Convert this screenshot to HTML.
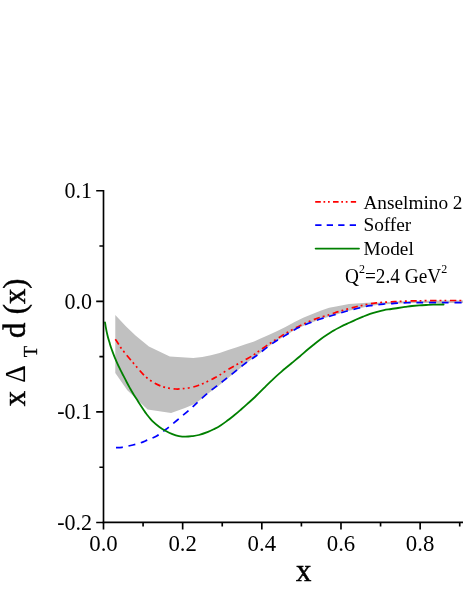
<!DOCTYPE html>
<html><head><meta charset="utf-8">
<style>
html,body{margin:0;padding:0;background:#fff;}
body{width:463px;height:599px;overflow:hidden;font-family:"Liberation Serif",serif;}
svg{display:block;will-change:transform;}
text{font-family:"Liberation Serif",serif;fill:#000;}
</style></head><body>
<svg width="463" height="599" viewBox="0 0 463 599">
<rect width="463" height="599" fill="#fff"/>
<!-- uncertainty band -->
<polygon fill="#c0c0c0" points="115.3,315.0 126.1,326.6 135.8,335.8 148.9,346.6 169.8,356.5 193.2,358.0 202.3,356.9 210.9,355.2 219.6,353.0 228.2,350.0 236.8,347.3 245.5,344.3 254.1,341.4 260.0,338.8 268.6,334.9 277.3,330.9 285.9,326.8 294.6,322.1 303.2,317.8 311.8,314.2 320.5,310.7 329.1,307.8 336.0,306.4 349.0,304.0 363.1,303.0 371.5,302.4 377.1,302.8 384.1,302.2 391.2,301.9 398.0,301.5 412.0,300.9 426.0,300.7 445.0,300.5 464.0,300.5 464.0,302.9 445.0,302.9 426.0,302.9 412.0,302.9 398.0,303.4 391.2,303.9 384.1,304.3 377.1,305.0 370.1,306.0 363.1,307.4 356.1,309.0 349.0,310.8 342.0,312.8 335.0,314.9 329.1,316.7 320.5,319.3 311.8,322.4 303.2,325.9 294.6,330.0 285.9,335.4 277.3,340.5 268.6,346.5 260.0,353.2 254.1,357.6 245.5,363.8 236.8,371.0 228.2,378.1 219.6,384.9 210.9,391.6 207.5,394.0 202.3,398.2 195.4,403.4 191.0,405.6 185.0,408.0 171.1,413.0 147.6,409.6 127.3,390.2 115.3,373.0"/>
<!-- Anselmino 2 -->
<path fill="none" stroke="#ff0000" stroke-width="1.7" stroke-dasharray="6.25,3.0,1.9,3.1,1.9,3.65" d="M115.3,339.3C115.8,340.0 117.0,341.8 118.0,343.3C119.0,344.8 120.0,346.6 121.2,348.2C122.4,349.8 123.5,351.1 125.0,353.0C126.5,354.9 128.7,357.5 130.5,359.7C132.3,361.9 134.0,363.8 135.9,366.0C137.8,368.2 140.0,370.9 142.0,373.0C144.0,375.1 145.8,377.0 148.0,378.7C150.2,380.4 152.6,382.0 154.9,383.3C157.2,384.6 159.5,385.6 161.8,386.4C164.1,387.2 166.4,387.8 168.7,388.2C171.0,388.6 173.4,388.9 175.7,389.0C178.0,389.1 179.9,389.0 182.6,388.7C185.3,388.4 189.2,387.9 191.9,387.3C194.6,386.7 196.5,386.1 198.8,385.3C201.1,384.5 203.4,383.4 205.7,382.3C208.0,381.2 210.3,380.1 212.6,378.9C214.9,377.7 217.0,376.7 219.6,375.1C222.2,373.5 225.3,371.2 228.2,369.5C231.1,367.8 233.9,366.2 236.8,364.6C239.7,363.0 242.6,361.4 245.5,359.7C248.4,358.0 251.7,356.2 254.1,354.6C256.5,353.0 257.6,352.0 260.0,350.3C262.4,348.6 265.7,346.1 268.6,344.2C271.5,342.3 274.4,340.5 277.3,338.7C280.2,336.9 283.0,334.9 285.9,333.2C288.8,331.5 291.7,330.0 294.6,328.5C297.5,327.0 300.3,325.6 303.2,324.2C306.1,322.8 308.9,321.5 311.8,320.4C314.7,319.2 317.6,318.2 320.5,317.3C323.4,316.4 326.7,315.5 329.1,314.7C331.5,313.9 332.9,313.4 335.0,312.7C337.1,312.0 339.7,311.3 342.0,310.6C344.3,309.9 346.6,309.2 349.0,308.6C351.4,308.0 353.8,307.4 356.1,306.8C358.5,306.2 360.8,305.7 363.1,305.2C365.4,304.7 367.8,304.2 370.1,303.8C372.4,303.4 374.8,303.1 377.1,302.8C379.4,302.5 381.8,302.4 384.1,302.2C386.5,302.0 388.9,302.0 391.2,301.9C393.5,301.8 394.5,301.7 398.0,301.5C401.5,301.3 407.3,301.0 412.0,300.9C416.7,300.8 420.5,300.8 426.0,300.7C431.5,300.6 438.7,300.5 445.0,300.5C451.3,300.5 460.8,300.5 464.0,300.5"/>
<!-- Soffer -->
<path fill="none" stroke="#0000ff" stroke-width="1.7" stroke-dasharray="6.95,5.75" d="M116.0,447.6C117.0,447.6 119.6,447.7 122.1,447.3C124.5,446.9 127.8,446.2 130.7,445.5C133.6,444.8 136.5,444.2 139.4,443.3C142.3,442.4 145.1,441.0 148.0,439.8C150.9,438.6 153.8,437.6 156.7,435.9C159.6,434.2 162.4,432.0 165.3,429.8C168.2,427.6 171.0,425.3 173.9,422.9C176.8,420.5 179.9,417.9 182.6,415.6C185.3,413.3 188.1,410.9 190.2,409.0C192.3,407.1 193.4,406.2 195.4,404.3C197.4,402.4 199.7,400.2 202.3,397.9C204.9,395.6 208.0,392.9 210.9,390.5C213.8,388.1 216.7,386.1 219.6,383.8C222.5,381.6 225.3,379.3 228.2,377.0C231.1,374.7 233.9,372.4 236.8,370.1C239.7,367.8 242.6,365.3 245.5,363.2C248.4,361.1 251.7,359.0 254.1,357.3C256.5,355.6 257.6,354.8 260.0,352.9C262.4,351.0 265.7,348.3 268.6,346.2C271.5,344.1 274.4,342.0 277.3,340.2C280.2,338.4 283.0,336.9 285.9,335.1C288.8,333.4 291.7,331.3 294.6,329.7C297.5,328.1 300.3,326.9 303.2,325.6C306.1,324.3 308.9,323.2 311.8,322.1C314.7,321.0 317.6,319.9 320.5,319.0C323.4,318.1 326.7,317.1 329.1,316.4C331.5,315.7 332.9,315.2 335.0,314.6C337.1,314.0 339.7,313.2 342.0,312.5C344.3,311.8 346.6,311.1 349.0,310.5C351.4,309.9 353.8,309.3 356.1,308.7C358.5,308.1 360.8,307.6 363.1,307.1C365.4,306.6 367.8,306.1 370.1,305.7C372.4,305.3 374.8,305.0 377.1,304.7C379.4,304.4 381.8,304.2 384.1,304.0C386.5,303.8 388.9,303.8 391.2,303.6C393.5,303.5 394.5,303.3 398.0,303.1C401.5,302.9 407.3,302.7 412.0,302.6C416.7,302.5 420.5,302.6 426.0,302.6C431.5,302.6 438.7,302.6 445.0,302.6C451.3,302.6 460.8,302.6 464.0,302.6"/>
<!-- Model -->
<path fill="none" stroke="#008000" stroke-width="1.8" stroke-linecap="round" d="M105.0,322.3C105.2,323.4 105.6,326.5 106.1,328.8C106.5,331.1 107.1,333.8 107.7,336.3C108.3,338.8 109.2,341.5 109.9,343.9C110.6,346.3 111.3,348.3 112.1,350.5C112.9,352.7 113.8,355.2 114.7,357.3C115.6,359.4 116.3,361.2 117.3,363.3C118.2,365.4 119.4,367.8 120.4,369.9C121.4,372.0 122.4,373.8 123.5,375.9C124.6,378.0 125.8,380.4 126.9,382.5C128.0,384.6 129.1,386.6 130.3,388.8C131.5,391.0 133.0,393.4 134.3,395.6C135.7,397.8 136.9,399.5 138.4,401.9C139.9,404.2 142.2,407.7 143.5,409.7C144.8,411.7 144.9,412.0 146.5,414.0C148.1,416.0 150.8,419.5 153.0,421.7C155.2,423.9 157.2,425.4 159.4,427.0C161.6,428.6 163.7,429.8 165.9,431.0C168.1,432.2 170.2,433.2 172.4,434.1C174.6,435.0 176.7,435.7 178.9,436.1C181.1,436.5 183.2,436.7 185.4,436.7C187.6,436.7 189.6,436.5 191.8,436.2C194.0,435.9 196.1,435.7 198.8,435.0C201.5,434.3 205.4,432.9 208.0,431.9C210.6,430.9 212.3,430.0 214.5,428.9C216.7,427.8 218.8,426.6 220.9,425.2C223.1,423.8 225.2,422.2 227.4,420.6C229.6,419.0 231.8,417.2 233.9,415.5C236.1,413.8 238.2,412.0 240.3,410.1C242.5,408.2 244.4,406.6 246.8,404.4C249.2,402.2 251.8,400.0 255.0,397.0C258.2,394.0 263.0,389.1 265.9,386.2C268.8,383.3 270.2,381.9 272.4,379.9C274.6,377.8 276.7,375.8 278.9,373.9C281.1,372.0 283.2,370.1 285.4,368.3C287.5,366.5 289.4,365.0 291.8,363.0C294.2,361.0 297.3,358.5 300.0,356.2C302.7,353.9 305.6,351.3 308.0,349.3C310.4,347.3 312.4,345.7 314.5,344.0C316.6,342.3 318.8,340.6 320.9,339.0C323.0,337.4 325.2,335.9 327.4,334.5C329.6,333.1 331.8,331.6 333.9,330.4C336.0,329.1 338.1,328.1 340.3,327.0C342.5,325.9 344.4,325.0 346.8,323.9C349.2,322.8 352.3,321.3 355.0,320.1C357.7,318.9 360.6,317.6 363.1,316.6C365.6,315.6 367.8,314.7 370.1,313.9C372.4,313.1 374.8,312.4 377.1,311.8C379.4,311.2 381.8,310.6 384.1,310.1C386.5,309.6 388.9,309.4 391.2,309.0C393.5,308.6 395.7,308.4 398.0,308.0C400.3,307.6 402.7,307.2 405.0,306.9C407.3,306.6 409.6,306.2 412.0,306.0C414.4,305.8 416.8,305.6 419.1,305.4C421.5,305.2 423.8,305.1 426.1,305.0C428.4,304.9 430.2,304.8 433.1,304.7C436.0,304.6 441.9,304.5 443.6,304.5"/>
<!-- axes -->
<g stroke="#000" stroke-width="1.65" fill="none">
<path d="M103.5,189.90V523.15"/>
<path d="M102.7,522.35H463"/>
<path d="M96.2,190.70H103.5M96.2,301.30H103.5M96.2,411.90H103.5M96.2,522.50H103.5"/>
<path d="M99.4,246.00H103.5M99.4,356.60H103.5M99.4,467.20H103.5"/>
<path d="M103.50,522.35V529.6M182.66,522.35V529.6M261.82,522.35V529.6M340.98,522.35V529.6M420.14,522.35V529.6"/>
<path d="M143.08,522.35V526.4M222.24,522.35V526.4M301.40,522.35V526.4M380.56,522.35V526.4M459.72,522.35V526.4"/>
</g>
<!-- tick labels -->
<g font-size="22" text-anchor="end">
<text transform="translate(92.1,197.9) scale(1,1.05)">0.1</text>
<text transform="translate(92.1,308.5) scale(1,1.05)">0.0</text>
<text transform="translate(92.1,419.0) scale(1,1.05)">-0.1</text>
<text transform="translate(92.1,529.5) scale(1,1.05)">-0.2</text>
</g>
<g font-size="22.8" text-anchor="middle">
<text transform="translate(103.5,551.4) scale(1,1.05)">0.0</text>
<text transform="translate(182.7,551.4) scale(1,1.05)">0.2</text>
<text transform="translate(261.8,551.4) scale(1,1.05)">0.4</text>
<text transform="translate(341.0,551.4) scale(1,1.05)">0.6</text>
<text transform="translate(420.1,551.4) scale(1,1.05)">0.8</text>
</g>
<!-- legend -->
<path d="M315.2,201.8H356.1" stroke="#ff0000" stroke-width="1.7" stroke-dasharray="5.6,2.7,1.7,2.8,1.7,3.3" fill="none"/>
<path d="M315.2,225.2H356.1" stroke="#0000ff" stroke-width="1.7" stroke-dasharray="6.3,5.2" fill="none"/>
<path d="M315.6,248.6H359" stroke-linecap="round" stroke="#008000" stroke-width="1.8" fill="none"/>
<g font-size="19.3">
<text transform="translate(363.4,208.7) scale(1,1.03)">Anselmino 2</text>
<text transform="translate(363.4,231.3) scale(1,1.03)">Soffer</text>
<text transform="translate(363.4,254.7) scale(1,1.03)">Model</text>
<text transform="translate(345,283.1) scale(1,1.05)">Q<tspan font-size="12" dy="-9.3">2</tspan><tspan dy="9.3">=2.4 GeV</tspan><tspan font-size="12" dy="-9.3">2</tspan></text>
</g>
<!-- axis titles -->
<text transform="translate(303.7,581) scale(0.96,0.96)" font-size="32" text-anchor="middle" stroke="#000" stroke-width="0.5">x</text>
<g transform="translate(25.2,406) rotate(-90)" stroke="#000" stroke-width="0.5" font-size="32">
<text transform="translate(-0.2,0) scale(0.96,0.96)">x</text>
<text transform="translate(23.3,0) scale(0.95,1.0)" font-size="28.5" stroke-width="0.1">Δ</text>
<text transform="translate(48.8,11.8) scale(0.845,0.9)" font-size="22" stroke-width="0.35">T</text>
<text transform="translate(67.9,0) scale(0.96,0.96)">d</text>
<text transform="translate(91.7,0) scale(0.96,0.96)">(x)</text>
</g>
</svg>
</body></html>
